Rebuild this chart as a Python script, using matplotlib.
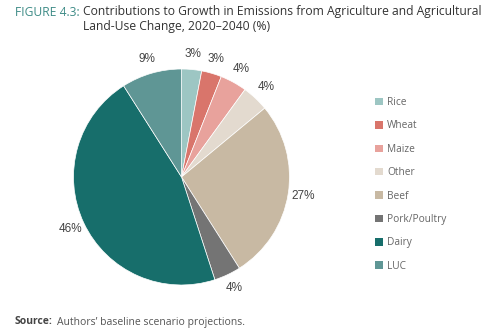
import matplotlib.pyplot as plt
from matplotlib.patches import Patch

# Data
categories = ["Rice", "Wheat", "Maize", "Other", "Beef", "Pork/Poultry", "Dairy", "LUC"]
shares = [3, 3, 4, 4, 27, 4, 46, 9]
colors = ["#9dc6c3", "#d9756b", "#e8a29c", "#e3dacf", "#c8b9a3", "#747474", "#176e6b", "#5f9695"]

fig = plt.figure(figsize=(4.87, 3.36), dpi=100)
fig.patch.set_facecolor("white")

# Pie
ax = fig.add_axes([(181.5 - 108) / 487, 1 - (177 + 108) / 336, 216 / 487, 216 / 336])
ax.pie(shares, colors=colors, startangle=90, counterclock=False,
       labels=[f"{v}%" for v in shares], labeldistance=1.14,
       wedgeprops=dict(edgecolor="white", linewidth=0.5),
       textprops=dict(color="#444444", fontsize=8.5, family="Liberation Sans"))
for t in ax.texts:
    t.set_horizontalalignment("center")
    t.set_verticalalignment("center")
ax.set_xlim(-1, 1)
ax.set_ylim(-1, 1)

# Legend
handles = [Patch(facecolor=c, edgecolor="none") for c in colors]
leg = fig.legend(handles, categories, loc="upper left", bbox_to_anchor=(366 / 487, 1 - 88 / 336),
                 frameon=False, labelspacing=1.22, handlelength=0.75, handleheight=0.75,
                 handletextpad=0.45, prop=dict(family="Open Sans", size=7.3))
for t in leg.get_texts():
    t.set_color("#666666")

# Title
fig.text(80 / 487, 1 - 12 / 336, "FIGURE 4.3:", color="#3d8b86", fontsize=8.7,
         family="Open Sans", va="center", ha="right")
fig.text(83 / 487, 1 - 12 / 336,
         "Contributions to Growth in Emissions from Agriculture and Agricultural",
         color="#333333", fontsize=8.7, family="Open Sans", va="center", ha="left")
fig.text(83 / 487, 1 - 26.5 / 336, "Land-Use Change, 2020\u20132040 (%)",
         color="#333333", fontsize=8.7, family="Open Sans", va="center", ha="left")

# Source
fig.text(15 / 487, 1 - 322 / 336, "Source:", color="#444444", fontsize=7.5,
         family="Open Sans", weight="bold", va="center", ha="left")
fig.text(57 / 487, 1 - 322 / 336, "Authors\u2019 baseline scenario projections.", color="#555555",
         fontsize=7.5, family="Open Sans", va="center", ha="left")

fig.savefig("out.png", dpi=100, facecolor="white")
